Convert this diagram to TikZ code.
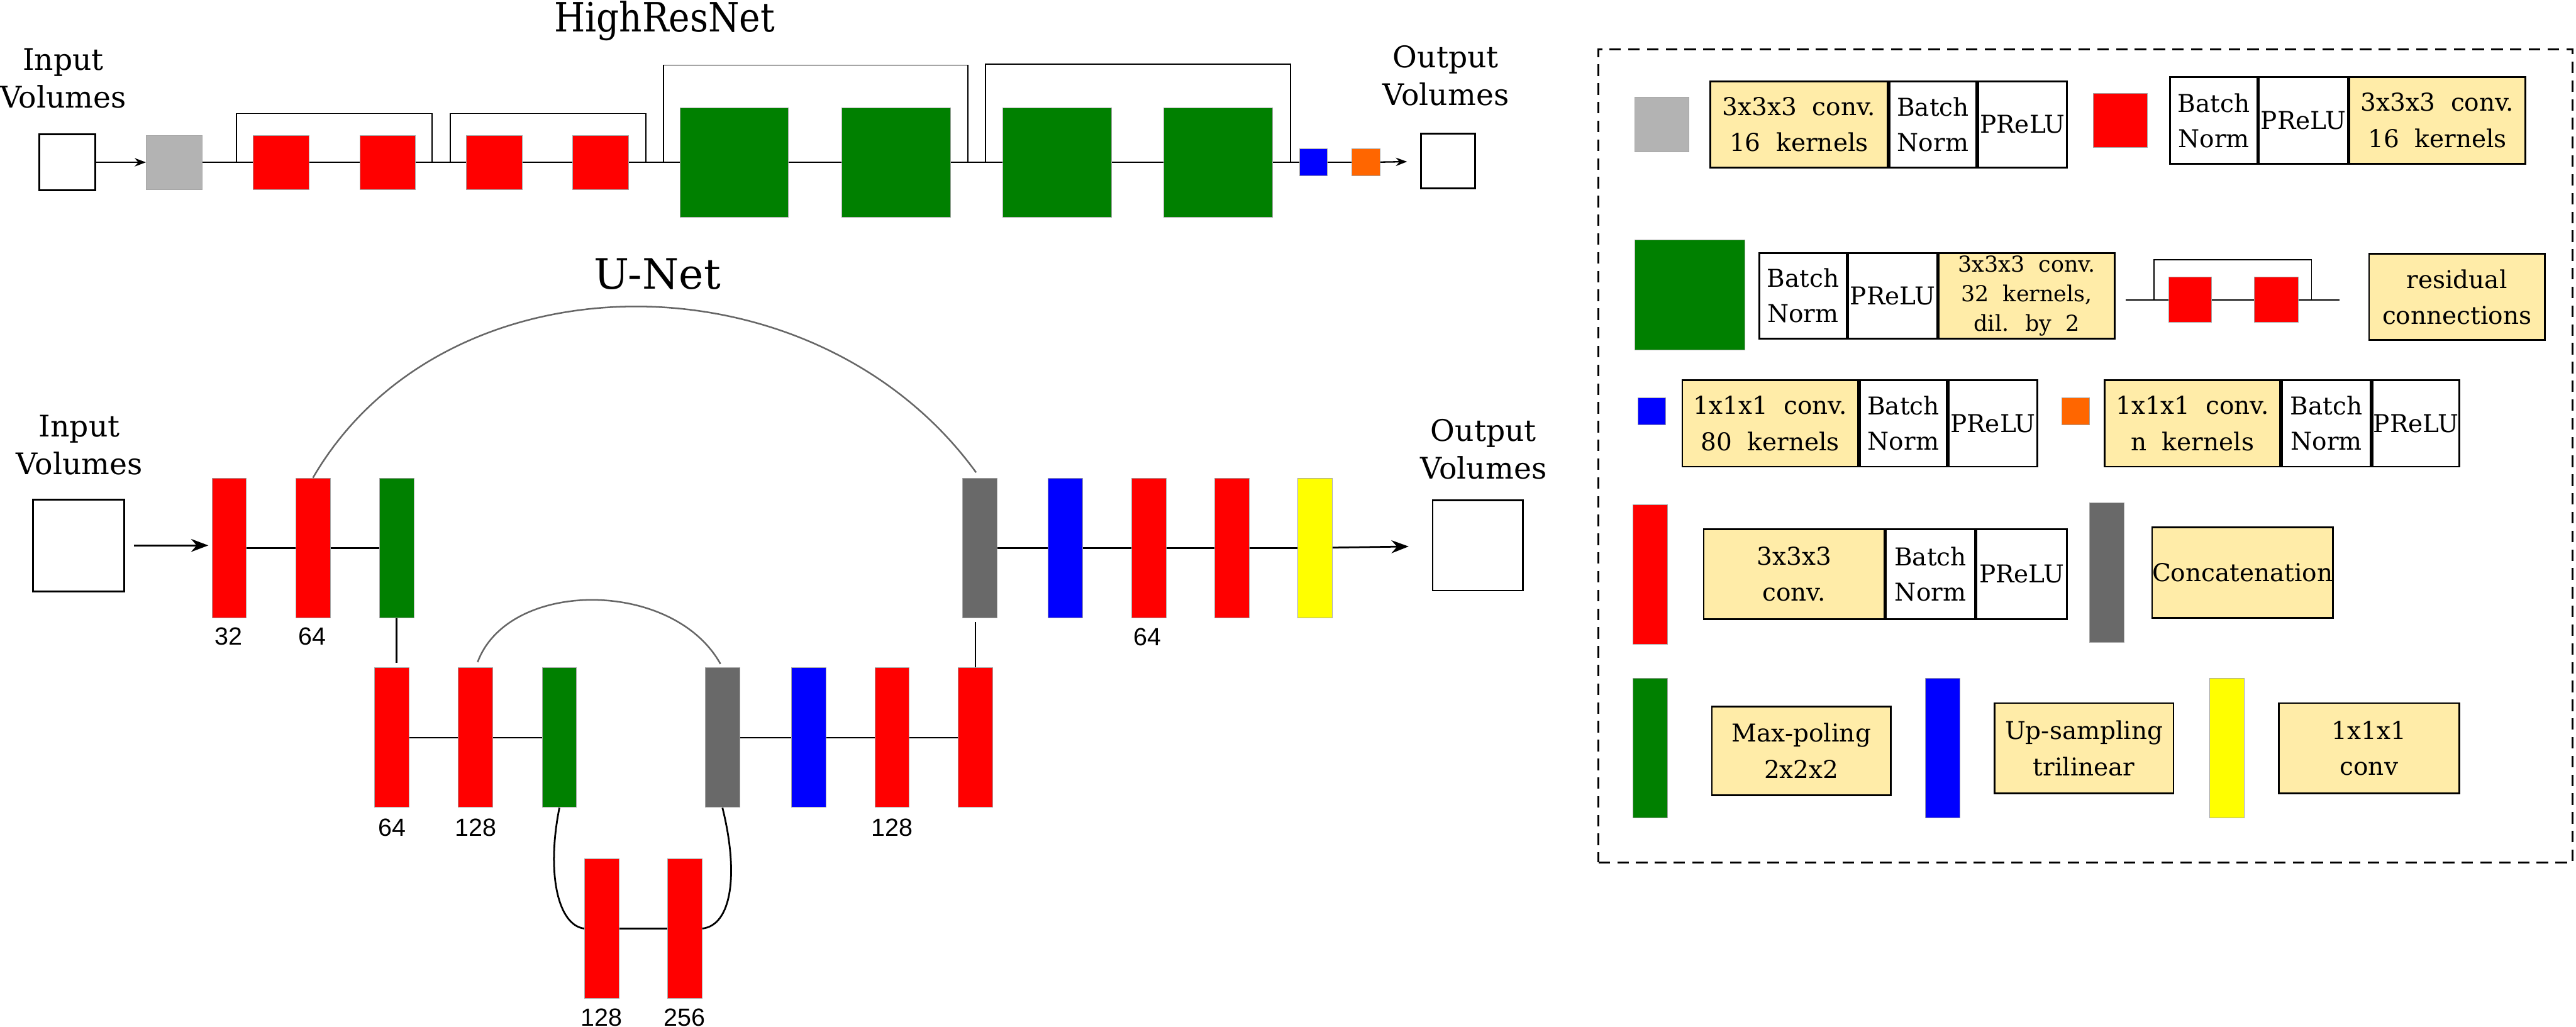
\documentclass[tikz,border=0pt]{standalone}
\usepackage{fontspec}
\setmainfont{DejaVu Serif}
\newfontfamily\legfont[WordSpace=2]{DejaVu Serif}
\newfontfamily\titlefont[FakeStretch=0.88]{DejaVu Serif}
\newfontfamily\numfont{Liberation Sans}
\usepackage{xcolor}
\usepackage{tikz}
\usetikzlibrary{
  arrows.meta,
  positioning,
  calc
}

\definecolor{netred}{RGB}{255,0,0}
\definecolor{netgreen}{RGB}{0,128,0}
\definecolor{netblue}{RGB}{0,0,255}
\definecolor{netorange}{RGB}{255,102,0}
\definecolor{netyellow}{RGB}{255,255,0}
\definecolor{lightgrey}{RGB}{179,179,179}
\definecolor{darkgrey}{RGB}{105,105,105}
\definecolor{cellyellow}{RGB}{255,236,168}

\newlength\pxu
\setlength\pxu{0.02cm}

\begin{document}
\begin{tikzpicture}[
  x=0.02cm, y=-0.02cm,
  wh/.style 2 args={minimum width=#1\pxu, minimum height=#2\pxu},
  blk/.style={draw=black!35, line width=0.2pt, inner sep=0pt},
  vol/.style={draw=black, line width=0.6pt, fill=white, inner sep=0pt},
  title/.style={font=\titlefont\fontsize{14}{16}\selectfont, anchor=base, inner sep=0pt},
  lab/.style={font=\fontsize{10.3}{13}\selectfont, align=center, inner sep=0pt},
  num/.style={font=\numfont\fontsize{8.6}{10}\selectfont, anchor=base, inner sep=0pt},
  wire/.style={draw=black, line width=0.5pt},
  uwire/.style={draw=black, line width=0.6pt},
  skip/.style={draw=black, line width=0.4pt},
  arc/.style={draw=black!60, line width=0.55pt},
  wcell/.style={draw=black, line width=0.6pt, fill=white, inner sep=0pt, align=center,
    font=\fontsize{8.5}{12.2}\selectfont},
  ycell/.style={draw=black, line width=0.6pt, fill=cellyellow, inner sep=0pt, align=center,
    font=\legfont\fontsize{8.5}{12.5}\selectfont},
  legframe/.style={draw=black, line width=0.6pt, dash pattern=on 4pt off 2.5pt, inner sep=0pt}
]
\useasboundingbox (0,0) rectangle (1568,625);

% ---------------- HighResNet ----------------
\node[title] (hrtitle) at (404.5,19.3) {HighResNet};
\node[lab] (hrin) at (38.5,47.6) {Input\\Volumes};
\node[lab] (hrout) at (880,46) {Output\\Volumes};

\node[vol, wh={34}{34}] (hin) at (41,98.8) {};
\node[blk, fill=lightgrey, wh={34}{33}] (hg) at (106,98.8) {};
\foreach \n/\x in {hr1/171, hr2/236, hr3/301, hr4/365.5}{
  \node[blk, fill=netred, wh={34}{33}] (\n) at (\x,98.8) {};
}
\foreach \n/\x in {hd1/447, hd2/545.5, hd3/643.5, hd4/741.5}{
  \node[blk, fill=netgreen, wh={66}{66.6}] (\n) at (\x,98.8) {};
}
\node[blk, fill=netblue, wh={17}{16.6}] (hb) at (799.5,98.8) {};
\node[blk, fill=netorange, wh={17}{16.6}] (ho) at (831.5,98.8) {};
\node[vol, wh={33}{33.5}] (hout) at (881.5,98) {};

\draw[wire, -{Stealth[length=3.9pt,width=2.9pt]}] (hin) -- (hg);
\foreach \a/\b in {hg/hr1, hr1/hr2, hr2/hr3, hr3/hr4, hr4/hd1, hd1/hd2, hd2/hd3, hd3/hd4, hd4/hb, hb/ho}{
  \draw[wire] (\a) -- (\b);
}
\draw[wire, -{Stealth[length=3.9pt,width=2.9pt]}, shorten >=8\pxu] (ho) -- (hout);

% residual connections
\coordinate (sk1) at (144,98.8);
\coordinate (sk2) at (263,98.8);
\coordinate (sk3) at (274,98.8);
\coordinate (sk4) at (393,98.8);
\coordinate (sk5) at (404,98.8);
\coordinate (sk6) at (589,98.8);
\coordinate (sk7) at (600,98.8);
\coordinate (sk8) at (785.5,98.8);
\foreach \a/\b/\h in {sk1/sk2/29.7, sk3/sk4/29.7, sk5/sk6/59.2, sk7/sk8/59.8}{
  \draw[skip] (\a) -- ++(0,-\h) -| (\b);
}

% ---------------- U-Net ----------------
\node[title, font=\fontsize{14.5}{16}\selectfont] (untitle) at (400,176) {U-Net};
\node[lab] (unin) at (48.3,271) {Input\\Volumes};
\node[lab] (unout) at (903,273.4) {Output\\Volumes};

\node[vol, wh={55.5}{56}] (uin) at (47.75,332) {};
\node[vol, wh={55}{55}] (uout) at (899.5,332) {};

% level 1
\node[blk, fill=netred, wh={21}{85}] (enc1a) at (139.5,333.5) {};
\node[blk, fill=netred, wh={21}{85}] (enc1b) at (190.5,333.5) {};
\node[blk, fill=netgreen, wh={21}{85}] (pool1) at (241.5,333.5) {};
\node[blk, fill=darkgrey, wh={21}{85}] (cat1) at (596.5,333.5) {};
\node[blk, fill=netblue, wh={21}{85}] (up1) at (648.5,333.5) {};
\node[blk, fill=netred, wh={21}{85}] (dec1a) at (699.5,333.5) {};
\node[blk, fill=netred, wh={21}{85}] (dec1b) at (750,333.5) {};
\node[blk, fill=netyellow, wh={21}{85}] (fin) at (800.5,333.5) {};

% level 2
\node[blk, fill=netred, wh={21}{85}] (enc2a) at (238.5,449) {};
\node[blk, fill=netred, wh={21}{85}] (enc2b) at (289.5,449) {};
\node[blk, fill=netgreen, wh={21}{85}] (pool2) at (340.5,449) {};
\node[blk, fill=darkgrey, wh={21}{85}] (cat2) at (439.75,449) {};
\node[blk, fill=netblue, wh={21}{85}] (up2) at (492.2,449) {};
\node[blk, fill=netred, wh={21}{85}] (dec2a) at (543,449) {};
\node[blk, fill=netred, wh={21}{85}] (dec2b) at (593.75,449) {};

% level 3
\node[blk, fill=netred, wh={21}{85}] (bot1) at (366.3,565.2) {};
\node[blk, fill=netred, wh={21}{85}] (bot2) at (416.8,565.2) {};

% feature counts
\node[num] (nf1) at (139,392.4) {32};
\node[num] (nf2) at (190,392.4) {64};
\node[num] (nf3) at (698.5,393) {64};
\node[num] (nf4) at (238.5,508.8) {64};
\node[num] (nf5) at (289.5,508.8) {128};
\node[num] (nf6) at (543,508.8) {128};
\node[num] (nf7) at (366.3,624.5) {128};
\node[num] (nf8) at (416.8,624.5) {256};

\draw[uwire, -{Stealth[length=6pt,width=4.5pt]}, shorten <=5.5\pxu, shorten >=2\pxu] (uin) -- (uin -| enc1a.west);
\foreach \a/\b in {enc1a/enc1b, enc1b/pool1, cat1/up1, up1/dec1a, dec1a/dec1b, dec1b/fin,
                   enc2a/enc2b, enc2b/pool2, cat2/up2, up2/dec2a, dec2a/dec2b, bot1/bot2}{
  \draw[uwire] (\a) -- (\b);
}
\draw[uwire, -{Stealth[length=6pt,width=4.5pt]}, shorten >=14\pxu] (fin) -- (uout);
\draw[uwire, shorten >=3\pxu] (pool1.south) -- (pool1.south |- enc2a.north);
\draw[uwire, shorten >=2.6\pxu] (dec2b.north) -- (dec2b.north |- cat1.south);

% skip connections
\draw[arc, shorten >=4\pxu] (enc1b.north) .. controls +(80,-138) and +(-101,-139) .. (cat1.north);
\draw[arc, shorten <=3.5\pxu, shorten >=2.5\pxu] (enc2b.north) .. controls +(20,-54) and +(-30,-54) .. (cat2.north);
\draw[uwire] (pool2.south) .. controls +(-8,40) and +(-16,-2) .. (bot1.west);
\draw[uwire] (cat2.south) .. controls +(10,40) and +(18,-2) .. (bot2.east);

% ---------------- legend ----------------
\node[legframe, wh={593}{495}] (legend) at (1269.5,277.5) {};

% row 1
\node[blk, fill=lightgrey, wh={33}{33.2}] (lk1) at (1011.5,75.9) {};
\node[ycell, wh={108}{52.4}] (t1a) at (1095,75.8) {3x3x3 conv.\\16 kernels};
\node[wcell, wh={53}{52.4}, right=0pt of t1a] (t1b) {Batch\\Norm};
\node[wcell, wh={54}{52.4}, right=0pt of t1b] (t1c) {PReLU};

\node[blk, fill=netred, wh={33}{33}] (lk2) at (1290.5,73.2) {};
\node[wcell, wh={53}{52.6}] (t2a) at (1347.5,73.3) {Batch\\Norm};
\node[wcell, wh={54}{52.6}, right=0pt of t2a] (t2b) {PReLU};
\node[ycell, wh={107}{52.6}, right=0pt of t2b] (t2c) {3x3x3 conv.\\16 kernels};

% row 2
\node[blk, fill=netgreen, wh={67}{67}] (lk3) at (1028.5,179.5) {};
\node[wcell, wh={53}{52}] (t3a) at (1097.5,180) {Batch\\Norm};
\node[wcell, wh={54}{52}, right=0pt of t3a] (t3b) {PReLU};
\node[ycell, wh={107}{52}, right=0pt of t3b, font=\legfont\fontsize{7.6}{10.2}\selectfont] (t3c)
  {3x3x3 conv.\\32 kernels,\\dil. by 2};

\coordinate (ra) at (1294,182.5);
\coordinate (rb) at (1424,182.5);
\coordinate (rc) at (1311,182.5);
\coordinate (rd) at (1407,182.5);
\draw[skip] (ra) -- (rb);
\draw[skip] (rc) -- ++(0,-24.5) -| (rd);
\node[blk, fill=netred, wh={26}{27.3}] (rr1) at (1333,182.4) {};
\node[blk, fill=netred, wh={27}{27.3}] (rr2) at (1385.5,182.4) {};
\node[ycell, wh={107}{52.5}] (rbox) at (1495.5,180.75) {residual\\connections};

% row 3
\node[blk, fill=netblue, wh={17}{16.6}] (lk4) at (1005.5,250.3) {};
\node[ycell, wh={107}{52.5}] (t4a) at (1077.5,257.75) {1x1x1 conv.\\80 kernels};
\node[wcell, wh={53}{52.5}, right=0pt of t4a] (t4b) {Batch\\Norm};
\node[wcell, wh={54}{52.5}, right=0pt of t4b] (t4c) {PReLU};

\node[blk, fill=netorange, wh={17}{16.6}] (lk5) at (1263.5,250.3) {};
\node[ycell, wh={107}{52.5}] (t5a) at (1334.5,257.75) {1x1x1 conv.\\n kernels};
\node[wcell, wh={54}{52.5}, right=0pt of t5a] (t5b) {Batch\\Norm};
\node[wcell, wh={53}{52.5}, right=0pt of t5b] (t5c) {PReLU};

% row 4
\node[blk, fill=netred, wh={21}{85}] (lk6) at (1004.5,349.5) {};
\node[ycell, wh={110}{55}] (t6a) at (1092,349.5) {3x3x3\\conv.};
\node[wcell, wh={54}{55}, right=0pt of t6a] (t6b) {Batch\\Norm};
\node[wcell, wh={55}{55}, right=0pt of t6b] (t6c) {PReLU};

\node[blk, fill=darkgrey, wh={21}{85}] (lk7) at (1282.5,348.5) {};
\node[ycell, wh={110}{55}] (cbox) at (1365,348.5) {Concatenation};

% row 5
\node[blk, fill=netgreen, wh={21}{85}] (lk8) at (1004.5,455.5) {};
\node[ycell, wh={109}{54}] (mbox) at (1096.5,457) {Max-poling\\2x2x2};
\node[blk, fill=netblue, wh={21}{85}] (lk9) at (1182.5,455.5) {};
\node[ycell, wh={109}{55}] (ubox) at (1268.5,455.5) {Up-sampling\\trilinear};
\node[blk, fill=netyellow, wh={21}{85}] (lk10) at (1355.5,455.5) {};
\node[ycell, wh={110}{55}] (cvbox) at (1442,455.5) {1x1x1\\conv};

\end{tikzpicture}
\end{document}
